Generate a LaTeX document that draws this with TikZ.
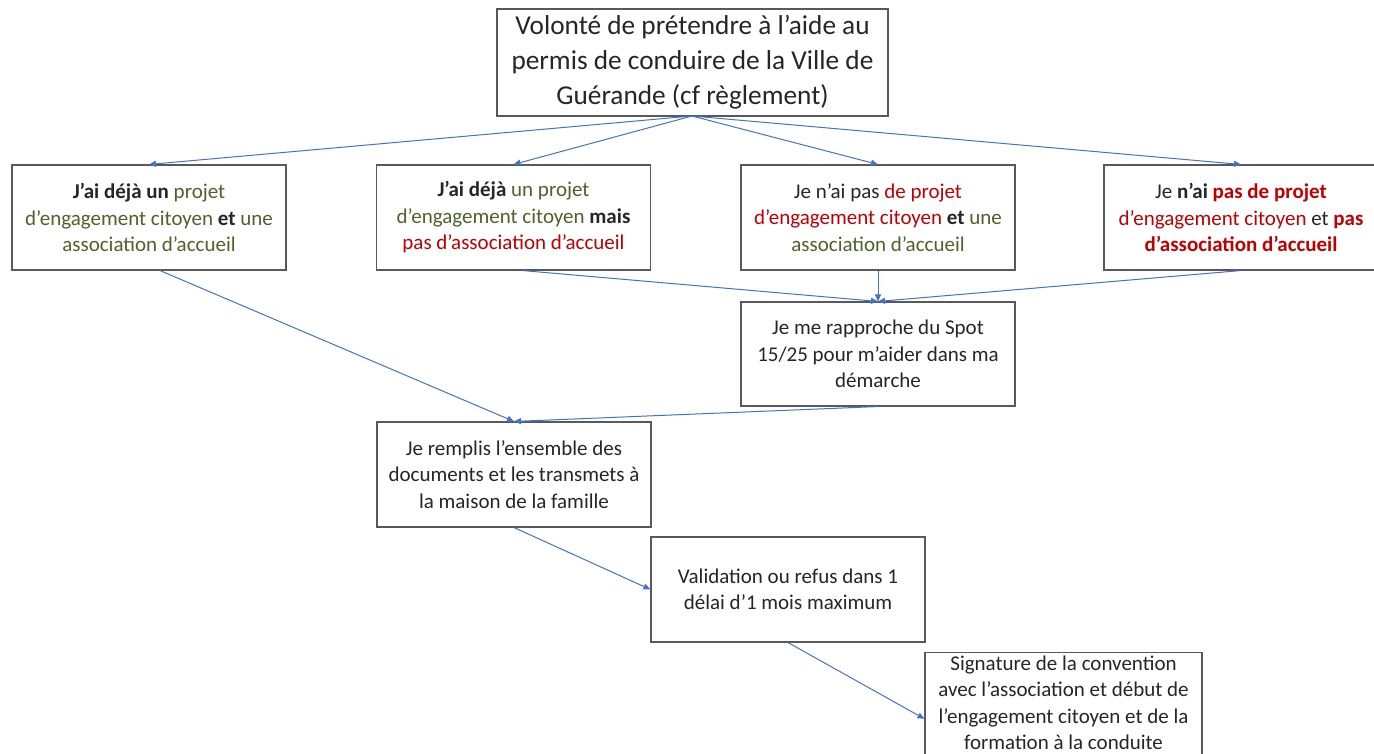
\documentclass[tikz,border=0pt]{standalone}
\usepackage{fontspec}
\setmainfont{Carlito}
\usetikzlibrary{arrows.meta}
\definecolor{txt}{HTML}{262626}
\definecolor{grn}{HTML}{4F6228}
\definecolor{rd}{HTML}{C00000}
\definecolor{bord}{HTML}{595959}
\definecolor{arr}{HTML}{4472C4}
\newcommand{\G}[1]{\textcolor{grn}{#1}}
\newcommand{\R}[1]{\textcolor{rd}{#1}}
\begin{document}
\begin{tikzpicture}[x=1pt,y=-1pt,
  box/.style={draw=bord,line width=1.1pt,fill=white,align=center,text=txt,
    minimum width=274pt,minimum height=105pt,inner sep=0pt,
    font=\fontsize{21}{26.5}\selectfont},
  link/.style={draw=arr,line width=1pt,-{Triangle[length=7pt,width=6pt]}}]
\useasboundingbox (0,0) rectangle (1374,754);
\fill[white] (0,0) rectangle (1374,754);
\node[box,minimum width=391pt,minimum height=107pt,font=\fontsize{27.3}{35}\selectfont] (top) at (692.5,62.5)
  {Volonté de prétendre à l’aide au\\permis de conduire de la Ville de\\Guérande (cf règlement)};
\node[box] (b1) at (149,217.5)
  {\textbf{J’ai déjà un} \G{projet}\\\G{d’engagement citoyen} \textbf{et} \G{une}\\\G{association d’accueil}};
\node[box] (b2) at (513.5,217.5)
  {\textbf{J’ai déjà} \G{un projet}\\\G{d’engagement citoyen} \textbf{mais}\\\R{pas d’association d’accueil}};
\node[box] (b3) at (878,217.5)
  {Je n’ai pas \R{de projet}\\\R{d’engagement citoyen} \textbf{et} \G{une}\\\G{association d’accueil}};
\node[box] (b4) at (1241,217.5)
  {Je \textbf{n’ai} \R{\textbf{pas de projet}}\\\R{d’engagement citoyen} et \R{\textbf{pas}}\\\R{\textbf{d’association d’accueil}}};
\node[box,minimum height=104pt] (spot) at (878,354)
  {Je me rapproche du Spot\\15/25 pour m’aider dans ma\\démarche};
\node[box] (doc) at (514,474.5)
  {Je remplis l’ensemble des\\documents et les transmets à\\la maison de la famille};
\node[box] (val) at (788,589.5)
  {Validation ou refus dans 1\\délai d’1 mois maximum};
\node[box,minimum width=277pt,minimum height=0pt,inner ysep=3pt,anchor=north] (sig) at (1063.5,652)
  {Signature de la convention\\avec l’association et début de\\l’engagement citoyen et de la\\formation à la conduite\\[-2pt]};
\coordinate (topS) at (692,116);
\draw[link] (topS) -- (b1.north);
\draw[link] (topS) -- (b2.north);
\draw[link] (topS) -- (b3.north);
\draw[link] (topS) -- (b4.north);
\draw[link] ([xshift=11pt]b1.south) -- (doc.north);
\draw[link] ([xshift=9pt]b2.south) -- (spot.north);
\draw[link] (b3.south) -- (spot.north);
\draw[link] (b4.south) -- (spot.north);
\draw[link] (spot.south) -- (doc.north);
\draw[link] (doc.south) -- (val.west);
\draw[link] (val.south) -- ([yshift=-4pt]sig.west);
\end{tikzpicture}
\end{document}
